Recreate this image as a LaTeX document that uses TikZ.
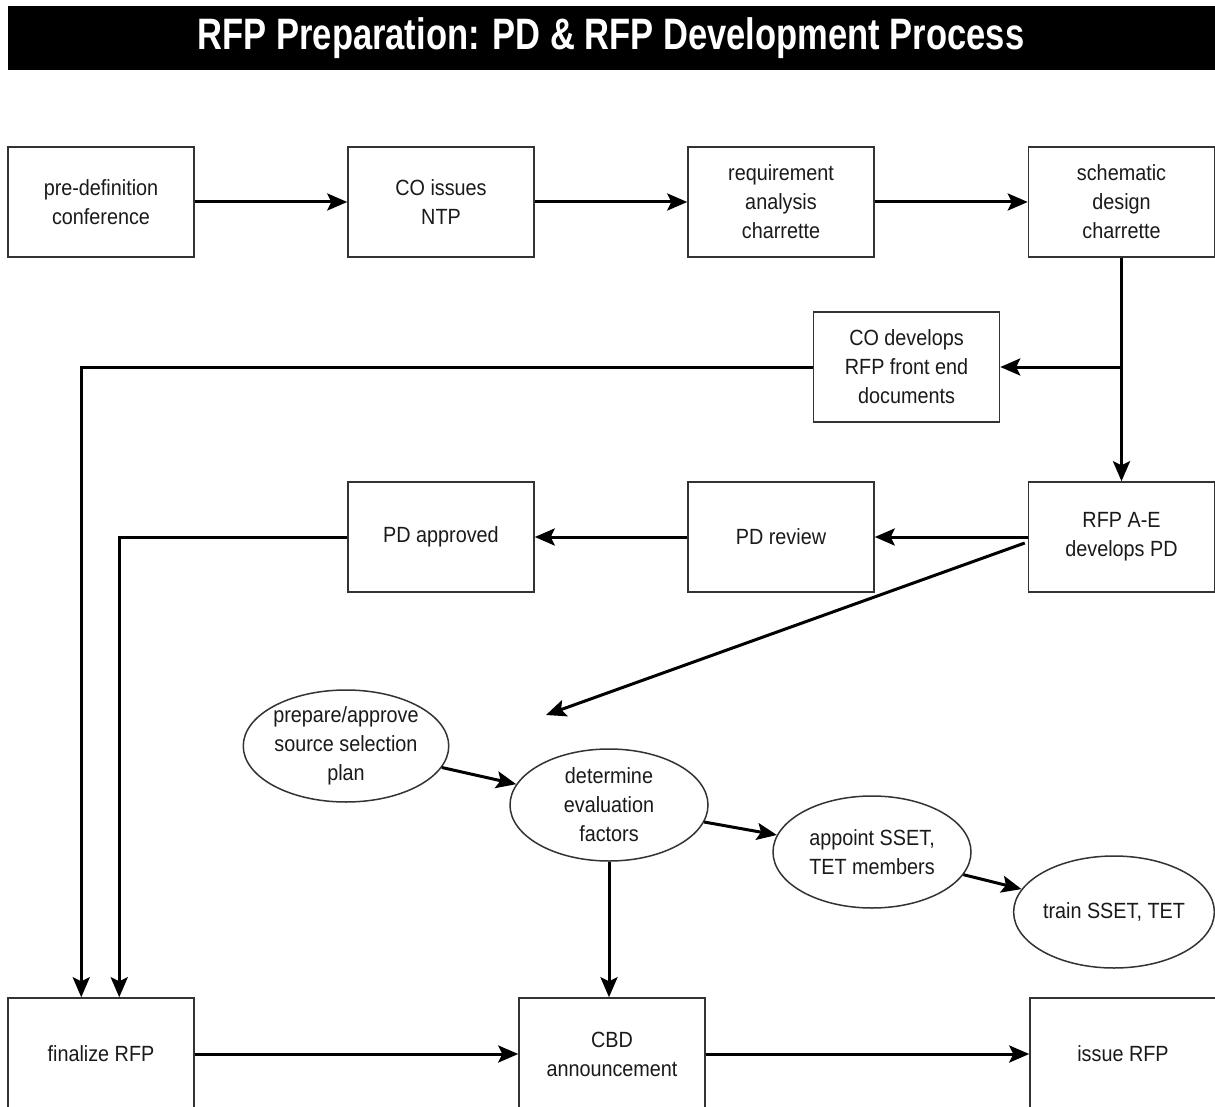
\documentclass[tikz,border=0pt]{standalone}
\usepackage{fontspec}
\setmainfont{Liberation Sans}[FakeStretch=0.9]
\newfontfamily\titlefont{Liberation Sans Bold}[FakeStretch=0.785]
\usetikzlibrary{arrows.meta,shapes.geometric,positioning}
\definecolor{boxline}{HTML}{333333}
\definecolor{txt}{HTML}{1A1A1A}
\tikzset{
  procbox/.style={draw=boxline, line width=1.5pt, minimum width=186pt, minimum height=110pt, inner sep=0pt, align=center, text=txt, font=\fontsize{22}{29}\selectfont},
  ovalbox/.style={ellipse, draw=boxline, line width=1.5pt, minimum width=198pt, minimum height=112pt, inner sep=0pt, align=center, text=txt, font=\fontsize{22}{29}\selectfont},
  arr/.style={draw=black, line width=3pt, -{Stealth[length=20pt,width=17pt,inset=4pt]}},
}
\begin{document}
\begin{tikzpicture}[x=1pt,y=-1pt]
\useasboundingbox (0,0) rectangle (1215,1107);
\clip (0,0) rectangle (1215,1107);
\fill[white] (0,0) rectangle (1215,1107);
% title
\fill[black] (8,6) rectangle (1215,70);
\node[text=white, font=\titlefont\fontsize{44}{50}\selectfont, inner sep=0pt] (title) at (611,38) {RFP Preparation: PD \& RFP Development Process};
% row 1
\node[procbox] (predef) at (101,202) {pre-definition\\conference};
\node[procbox] (coissues) at (441,202) {CO issues\\NTP};
\node[procbox] (reqan) at (781,202) {requirement\\analysis\\charrette};
\node[procbox] (schem) at (1121.5,202) {schematic\\design\\charrette};
% CO develops
\node[procbox] (codev) at (906.5,367) {CO develops\\RFP front end\\documents};
% row 3
\node[procbox] (pdapp) at (441,537) {PD approved};
\node[procbox] (pdrev) at (781,537) {PD review};
\node[procbox] (rfpae) at (1121.5,537) {RFP A-E\\develops PD};
% ellipses
\node[ovalbox] (prep) at (346,746) {prepare/approve\\source selection\\plan};
\node[ovalbox] (det) at (609,805) {determine\\evaluation\\factors};
\node[ovalbox] (appt) at (872,852) {appoint SSET,\\TET members};
\node[ovalbox] (train) at (1114,912) {train SSET, TET};
% bottom row (cut off by the page edge)
\node[procbox, minimum height=112pt] (fin) at (101,1054) {finalize RFP};
\node[procbox, minimum height=112pt] (cbd) at (612,1054) {CBD\\announcement};
\node[procbox, minimum height=112pt] (issue) at (1123,1054) {issue RFP};
\coordinate (diagend) at (546,715);
% connectors
\draw[arr] (predef) -- (coissues);
\draw[arr] (coissues) -- (reqan);
\draw[arr] (reqan) -- (schem);
\draw[arr] (schem.south) -- (rfpae.north);
\draw[arr] (schem.south |- codev.east) -- (codev.east);
\draw[arr] (codev.west) -| ([xshift=74pt]fin.north west);
\draw[arr] (rfpae.west) -- (pdrev.east);
\draw[arr] (pdrev.west) -- (pdapp.east);
\draw[arr] (pdapp.west) -| ([xshift=112pt]fin.north west);
\draw[arr] ([xshift=-3pt,yshift=-6pt]rfpae.west) -- (diagend);
\draw[arr] (prep) -- (det);
\draw[arr] (det) -- (appt);
\draw[arr] (appt) -- (train);
\draw[arr] (det.south) -- (det.south |- cbd.north);
\draw[arr] (fin) -- (cbd);
\draw[arr] (cbd) -- (issue);
\end{tikzpicture}
\end{document}
